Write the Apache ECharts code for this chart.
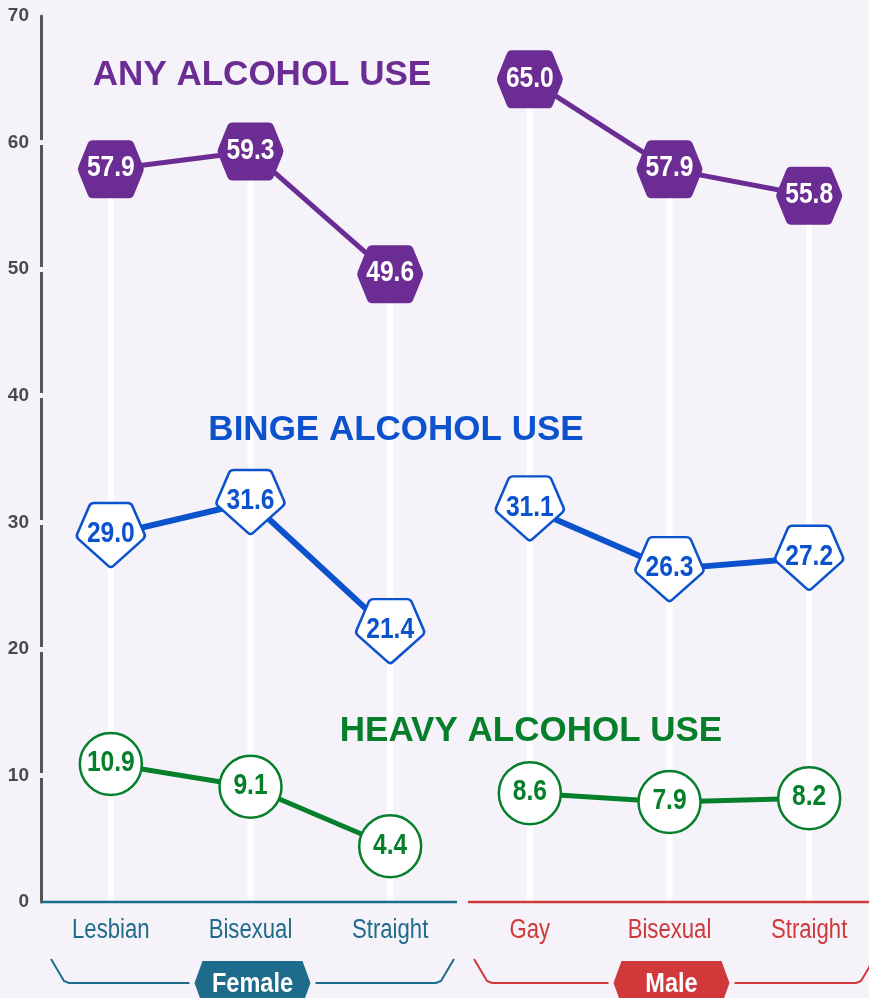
<!DOCTYPE html>
<html><head><meta charset="utf-8">
<script src="https://cdn.jsdelivr.net/npm/echarts@6/dist/echarts.min.js"></script>
<style>html,body{margin:0;padding:0;background:#f5f3f9}#c{width:869px;height:998px}</style>
</head><body><div id="c"></div>
<script>
// ---- data ----
const categories = ['Lesbian', 'Bisexual', 'Straight', 'Gay', 'Bisexual', 'Straight'];
const groups = ['Female', 'Male'];
const groupOf = [0, 0, 0, 1, 1, 1];
const anyUse = [57.9, 59.3, 49.6, 65.0, 57.9, 55.8];
const bingeUse = [29.0, 31.6, 21.4, 31.1, 26.3, 27.2];
const heavyUse = [10.9, 9.1, 4.4, 8.6, 7.9, 8.2];
const yTicks = [0, 10, 20, 30, 40, 50, 60, 70];
const titles = ['ANY ALCOHOL USE', 'BINGE ALCOHOL USE', 'HEAVY ALCOHOL USE'];

// ---- style ----
const BG = '#f5f3f9';
const PURPLE = '#6b2d93', BLUE = '#0b52cc', GREEN = '#067f2b';
const GCOL = ['#1f6b8b', '#d0383a'];
const SANS = '"Liberation Sans", Arial, sans-serif';
const HEX = 'path://M23,0 L77,0 Q82,0 84,5 L98,45 Q100,50 98,55 L84,95 Q82,100 77,100 L23,100 Q18,100 16,95 L2,55 Q0,50 2,45 L16,5 Q18,0 23,0 Z';
const PENT = 'path://M26,0 L74,0 Q79,0 80.9,4.6 L98.1,47.4 Q100,52 96.4,55.5 L53.6,96.5 Q50,100 46.4,96.5 L3.6,55.5 Q0,52 1.9,47.4 L19.1,4.6 Q21,0 26,0 Z';
const COND = 0.82; // horizontal condense factor for the narrow typeface look

const part = (vals, g) => vals.map((v, i) => groupOf[i] === g ? v : '-');

function lineSeries(vals, g, opts) {
  return {
    type: 'line', data: part(vals, g), z: 3,
    symbol: opts.symbol, symbolSize: opts.size,
    lineStyle: { color: opts.color, width: opts.lw },
    itemStyle: opts.item,
    label: { show: false },
    emphasis: { disabled: true }
  };
}

const series = [{
  type: 'bar', data: anyUse, barWidth: 6, z: 1, silent: true,
  itemStyle: { color: '#ffffff' }
}];
[0, 1].forEach(g => {
  series.push(lineSeries(anyUse, g, { symbol: HEX, size: [66, 58], color: PURPLE, lw: 5,
    item: { color: PURPLE } }));
  series.push(lineSeries(bingeUse, g, { symbol: PENT, size: [68, 64], color: BLUE, lw: 6,
    item: { color: '#fff', borderColor: BLUE, borderWidth: 2.5 } }));
  series.push(lineSeries(heavyUse, g, { symbol: 'circle', size: 62, color: GREEN, lw: 5,
    item: { color: '#fff', borderColor: GREEN, borderWidth: 2.5 } }));
});

// value labels (condensed bold), placed through the axes
const labelColors = ['#ffffff', BLUE, GREEN];
const labelData = [];
[anyUse, bingeUse, heavyUse].forEach((vals, m) => vals.forEach((v, i) => labelData.push([i, v, m])));
series.push({
  type: 'custom', z: 10, silent: true, data: labelData,
  renderItem: (params, api) => {
    const c = api.coord([api.value(0), api.value(1)]);
    const m = api.value(2);
    return { type: 'text', x: c[0], y: c[1] - 1, scaleX: COND,
      style: { text: api.value(1).toFixed(1), fill: labelColors[m], font: 'bold 30px ' + SANS,
               align: 'center', verticalAlign: 'middle' } };
  }
});
// category labels
series.push({
  type: 'custom', z: 10, silent: true, data: categories.map((c, i) => [i, 0]),
  renderItem: (params, api) => {
    const c = api.coord([api.value(0), 0]);
    const i = params.dataIndex;
    return { type: 'text', x: c[0], y: c[1] + 29, scaleX: COND,
      style: { text: categories[i], fill: GCOL[groupOf[i]], font: '27px ' + SANS,
               align: 'center', verticalAlign: 'middle' } };
  }
});

const chart = echarts.init(document.getElementById('c'));
chart.setOption({
  backgroundColor: BG,
  animation: false,
  grid: { left: 41, top: 16, bottom: 96, width: 838, outerBoundsMode: 'none', containLabel: false },
  xAxis: {
    type: 'category', data: categories,
    axisLine: { show: false }, axisTick: { show: false }, splitLine: { show: false },
    axisLabel: { show: false }
  },
  yAxis: [{
    type: 'value', min: yTicks[0], max: yTicks[yTicks.length - 1], interval: 10,
    axisLine: { show: true, lineStyle: { color: '#555', width: 3 } },
    axisTick: { show: false }, splitLine: { show: false },
    axisLabel: { color: '#4a4a4a', fontWeight: 'bold', fontSize: 19, fontFamily: SANS, margin: 12 }
  }, {
    type: 'value', min: yTicks[0], max: yTicks[yTicks.length - 1], interval: 10,
    position: 'left', offset: 3, z: 5,
    axisLine: { show: false }, axisLabel: { show: false }, splitLine: { show: false },
    axisTick: { show: true, inside: true, length: 6, lineStyle: { color: BG, width: 5 },
                customValues: yTicks.slice(1, -1) }
  }],
  series: series
});

// ---- decorations positioned from the axes ----
const px = i => chart.convertToPixel({ xAxisIndex: 0 }, i);
const y0 = chart.convertToPixel({ yAxisIndex: 0 }, 0);
const w = px(1) - px(0);
const gridLeft = px(0) - w / 2;
const boundary = px(2) + w / 2;
const graphic = [];

// axis base segments
graphic.push({ type: 'line', z: 4, shape: { x1: gridLeft, y1: y0, x2: boundary - 3, y2: y0 },
  style: { stroke: GCOL[0], lineWidth: 2.5 } });
graphic.push({ type: 'line', z: 4, shape: { x1: boundary + 8, y1: y0, x2: boundary + 8 + 420, y2: y0 },
  style: { stroke: GCOL[1], lineWidth: 2.5 } });

// group brackets and badges
const yTop = 959, yMid = 983;
[[gridLeft + 10, boundary - 6, 1], [boundary + 14, boundary + 414, 4]].forEach(([l, r, ci], g) => {
  const cx = px(ci) + 2;
  const bw = 58;
  graphic.push({ type: 'polyline', z: 4, shape: { points: [[l, yTop], [l + 13, yMid - 2], [l + 18, yMid], [cx - bw - 5, yMid]] },
    style: { stroke: GCOL[g], lineWidth: 2, fill: null } });
  graphic.push({ type: 'polyline', z: 4, shape: { points: [[cx + bw + 5, yMid], [r - 18, yMid], [r - 13, yMid - 2], [r, yTop]] },
    style: { stroke: GCOL[g], lineWidth: 2, fill: null } });
  graphic.push({ type: 'polygon', z: 4, shape: { points: [[cx - bw + 8, 961], [cx + bw - 8, 961], [cx + bw, yMid], [cx + bw - 8, 1005], [cx - bw + 8, 1005], [cx - bw, yMid]] },
    style: { fill: GCOL[g] } });
  graphic.push({ type: 'text', z: 5, x: cx, y: yMid + 1, scaleX: 0.84,
    style: { text: groups[g], fill: '#fff', font: 'bold 28px ' + SANS, align: 'center', verticalAlign: 'middle' } });
});

// section titles
const titlePos = [[262, 75, PURPLE], [396, 430, BLUE], [531, 731, GREEN]];
titles.forEach((t, k) => {
  graphic.push({ type: 'text', z: 5, x: titlePos[k][0], y: titlePos[k][1],
    style: { text: t, fill: titlePos[k][2], font: 'bold 35px ' + SANS,
             align: 'center', verticalAlign: 'middle' } });
});

chart.setOption({ graphic: graphic });
</script>
</body></html>
